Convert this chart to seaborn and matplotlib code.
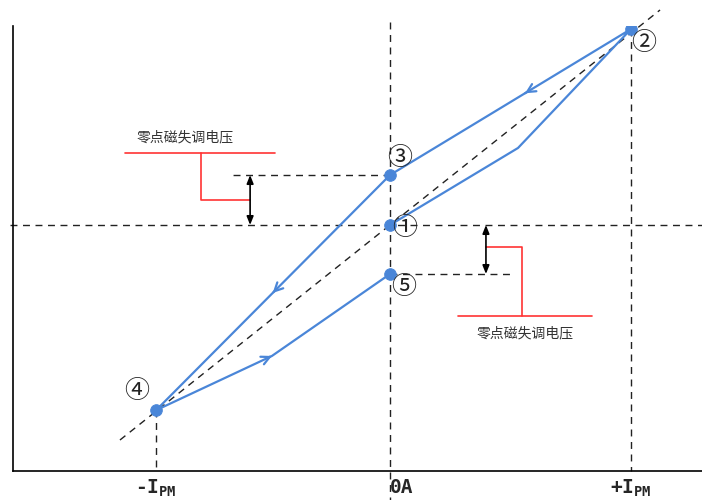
import matplotlib
matplotlib.use("Agg")
import matplotlib.pyplot as plt
import seaborn as sns
import pandas as pd
import numpy as np

# ---- data (normalized: x in units of I_PM, y in units of point ② output) ----
path_x = [0.0, 0.539, 1.015, 0.0, -0.985, -0.497, 0.0]
path_y = [0.0, 0.393, 1.0, 0.255, -0.945, -0.668, -0.25]
point_names = ["①", "②", "③", "④", "⑤"]
point_x = [0.0, 1.015, 0.0, -0.985, 0.0]
point_y = [0.0, 1.0, 0.255, -0.945, -0.25]
tick_vals = [-0.985, 0.0, 1.015]
tick_labels = [r"-I$_\mathbf{PM}$", "0A", r"+I$_\mathbf{PM}$"]
annot_text = "零点磁失调电压"

sns.set_style("white")
plt.rcParams["font.family"] = ["Noto Sans CJK SC", "DejaVu Sans"]
plt.rcParams["mathtext.fontset"] = "custom"
plt.rcParams["mathtext.bf"] = "DejaVu Sans Mono:bold"
plt.rcParams["mathtext.rm"] = "DejaVu Sans Mono:bold"

W, H = 702, 500
fig = plt.figure(figsize=(W / 100, H / 100), dpi=100)
ax = fig.add_axes([13 / W, 29 / H, (W - 13) / W, 445 / H])

px_x = 237.5
px_y = 196.0
x0, y0 = 390, 225
ax.set_xlim((13 - x0) / px_x, (W - x0) / px_x)
ax.set_ylim(-(471 - y0) / px_y, (y0 - 26) / px_y)

blue = "#4A86D8"
dash_kw = dict(color="#222222", lw=1.0, dashes=(5, 4), clip_on=False, zorder=1)

# reference dashed lines
xl = ax.get_xlim()
ax.plot([-1.6, xl[1]], [0, 0], **dash_kw)
ax.plot([0, 0], [1.036, -1.403], **dash_kw)
ax.plot([-1.137, 1.137], [-1.097, 1.097], **dash_kw)
ax.plot([point_x[3], point_x[3]], [point_y[3], ax.get_ylim()[0]], **dash_kw)
ax.plot([point_x[1], point_x[1]], [point_y[1], ax.get_ylim()[0]], **dash_kw)
ax.plot([point_x[2], -0.674], [point_y[2], point_y[2]], **dash_kw)
ax.plot([point_x[4], 0.505], [point_y[4], point_y[4]], **dash_kw)

# hysteresis path
df = pd.DataFrame({"x": path_x, "y": path_y, "order": range(len(path_x))})
sns.lineplot(data=df, x="x", y="y", sort=False, estimator=None, color=blue,
             lw=1.6, ax=ax, zorder=3)

# direction arrows along segments
def seg_arrow(i, frac):
    xa, ya = path_x[i], path_y[i]
    xb, yb = path_x[i + 1], path_y[i + 1]
    xm = xa + (xb - xa) * frac
    ym = ya + (yb - ya) * frac
    xs = xa + (xb - xa) * (frac - 0.02)
    ys = ya + (yb - ya) * (frac - 0.02)
    ax.annotate("", xy=(xm, ym), xytext=(xs, ys),
                arrowprops=dict(arrowstyle="->,head_length=0.6,head_width=0.3",
                                color=blue, lw=1.6), zorder=4)

seg_arrow(2, 0.45)
seg_arrow(3, 0.51)
seg_arrow(4, 1.0)

# points
pdf = pd.DataFrame({"x": point_x, "y": point_y})
sns.scatterplot(data=pdf, x="x", y="y", color=blue, s=70, edgecolor=blue,
                ax=ax, zorder=5)

offsets = [(15, -3), (13, -14), (10, 17), (-19, 19), (14, -13)]
for name, xv, yv, off in zip(point_names, point_x, point_y, offsets):
    ax.annotate(name, (xv, yv), xytext=off, textcoords="offset pixels",
                ha="center", va="center", fontsize=18, color="#222222",
                family=["Noto Sans CJK SC", "DejaVu Sans"], zorder=6)

# double-headed arrows (zero-point offset)
ax.annotate("", xy=(-0.589, 0.0), xytext=(-0.589, point_y[2]),
            arrowprops=dict(arrowstyle="<|-|>,head_length=0.5,head_width=0.2",
                            color="black", lw=1.2, shrinkA=0, shrinkB=0))
ax.annotate("", xy=(0.404, 0.0), xytext=(0.404, point_y[4]),
            arrowprops=dict(arrowstyle="<|-|>,head_length=0.5,head_width=0.2",
                            color="black", lw=1.2, shrinkA=0, shrinkB=0))

# red leader lines
red = "#FF3333"
ax.plot([-1.116, -0.484], [0.367, 0.367], color=red, lw=1.2)
ax.plot([-0.796, -0.796, -0.589], [0.367, 0.128, 0.128], color=red, lw=1.2)
ax.plot([0.404, 0.556, 0.556], [-0.112, -0.112, -0.464], color=red, lw=1.2)
ax.plot([0.286, 0.851], [-0.464, -0.464], color=red, lw=1.2)
ax.text(-0.863, 0.449, annot_text, ha="center", va="center", fontsize=10,
        color="#333333")
ax.text(0.568, -0.551, annot_text, ha="center", va="center", fontsize=10,
        color="#333333")

# axes styling
for s in ["top", "right"]:
    ax.spines[s].set_visible(False)
for s in ["left", "bottom"]:
    ax.spines[s].set_color("black")
    ax.spines[s].set_linewidth(1.2)
ax.set_xticks(tick_vals)
ax.set_xticklabels(tick_labels)
ax.set_yticks([])
ax.tick_params(axis="x", length=0, pad=5)
for lab in ax.get_xticklabels():
    lab.set_fontfamily("DejaVu Sans Mono")
    lab.set_fontweight("bold")
    lab.set_fontsize(14)
zero_lab = ax.get_xticklabels()[1]
zero_lab.set_horizontalalignment("left")
zero_lab.set_x(0.025)
ax.set_xlabel("")
ax.set_ylabel("")
if ax.get_legend():
    ax.get_legend().remove()

fig.savefig("out.png", dpi=100)
